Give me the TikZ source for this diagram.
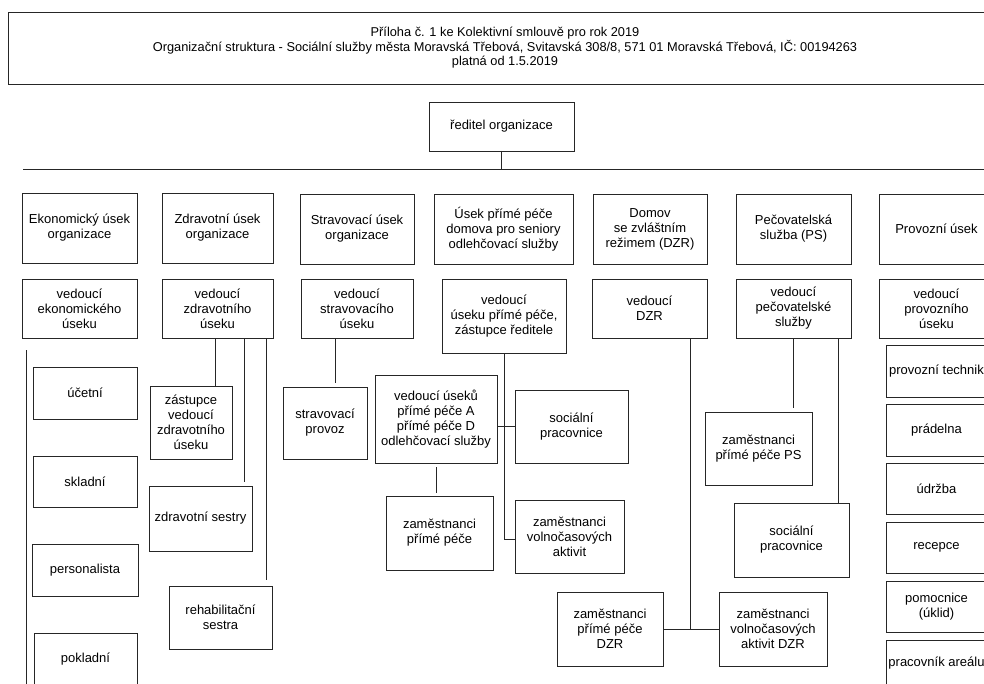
\documentclass[tikz,border=0pt]{standalone}
\usepackage{fontspec}
\setmainfont{Liberation Sans}
\begin{document}
\tikzset{
  box/.style={draw=black!85, line width=0.8pt, inner sep=0pt, outer sep=0pt, align=center, font=\fontsize{13}{15}\selectfont},
  htext/.style={inner sep=0pt, align=center, font=\fontsize{12.8}{14.5}\selectfont},
  conn/.style={draw=black!85, line width=0.8pt},
}
\newcommand\bx[6]{\node[box, minimum width={(#4-(#2))*1pt}, minimum height={(#5-(#3))*1pt}] (#1) at ({((#2)+(#4))/2},{((#3)+(#5))/2}) {#6};}
\begin{tikzpicture}[x=1pt,y=-1pt]
\useasboundingbox (0,0) rectangle (984,684);
\fill[white] (0,0) rectangle (984,684);
% header
\bx{hdr}{8}{12}{994}{84}{}
\node[htext] (hdrtext) at (505,48) {Příloha č. 1 ke Kolektivní smlouvě pro rok 2019\\Organizační struktura - Sociální služby města Moravská Třebová, Svitavská 308/8, 571 01 Moravská Třebová, IČ: 00194263\\platná od 1.5.2019};
% director
\bx{dir}{429}{102}{574}{151}{ředitel organizace}
\coordinate (busL) at (23,169);
\coordinate (busR) at (994,169);
\draw[conn] (busL) -- (busR);
\draw[conn] (dir.south) -- (dir.south |- busL);
% level 1
\bx{ek}{22}{193}{137}{263}{Ekonomický úsek\\organizace}
\bx{zd}{162}{193}{273}{263}{Zdravotní úsek\\organizace}
\bx{st}{300}{194}{414}{264}{Stravovací úsek\\organizace}
\bx{pp}{434}{194}{573}{264}{Úsek přímé péče\\domova pro seniory\\odlehčovací služby}
\bx{dz}{593}{194}{707}{264}{Domov\\se zvláštním\\režimem (DZR)}
\bx{ps}{736}{194}{851}{264}{Pečovatelská\\služba (PS)}
\bx{pr}{879}{194}{994}{264}{Provozní úsek}
% level 2
\bx{vek}{22}{279}{137}{338}{vedoucí\\ekonomického\\úseku}
\bx{vz}{162}{279}{273}{338}{vedoucí\\zdravotního\\úseku}
\bx{vs}{301}{279}{413}{338}{vedoucí\\stravovacího\\úseku}
\bx{vp}{442}{279}{566}{353}{vedoucí\\úseku přímé péče,\\zástupce ředitele}
\bx{vd}{592}{279}{707}{338}{vedoucí\\DZR}
\bx{vps}{736}{279}{851}{338}{vedoucí\\pečovatelské\\služby}
\bx{vpr}{879}{279}{994}{338}{vedoucí\\provozního\\úseku}
% economic
\bx{uc}{33}{367}{137}{419}{účetní}
\bx{sk}{33}{456}{137}{507}{skladní}
\bx{pe}{32}{544}{138}{596}{personalista}
\bx{po}{34}{633}{137}{686}{pokladní}
\coordinate (ekT) at (26,350);
\coordinate (ekB) at (26,690);
\draw[conn] (ekT) -- (ekB);
% health
\bx{zas}{150}{386}{232}{459}{zástupce\\vedoucí\\zdravotního\\úseku}
\bx{zs}{149}{486}{252}{551}{zdravotní sestry}
\bx{rs}{169}{586}{272}{649}{rehabilitační\\sestra}
\coordinate (z1) at (215,0);
\coordinate (z2) at (244,0);
\coordinate (z3) at (266,0);
\draw[conn] (vz.south -| z1) -- (zas.north -| z1);
\draw[conn] (vz.south -| z2) -- ([yshift=4pt]zs.north -| z2);
\draw[conn] (vz.south -| z3) -- ([yshift=6pt]rs.north -| z3);
% catering
\bx{spv}{283}{387}{367}{459}{stravovací\\provoz}
\coordinate (s1) at (335,0);
\draw[conn] (vs.south -| s1) -- ([yshift=4pt]spv.north -| s1);
% direct care
\bx{vu}{375}{375}{497}{463}{vedoucí úseků\\přímé péče A\\přímé péče D\\odlehčovací služby}
\bx{sp1}{515}{390}{628}{463}{sociální\\pracovnice}
\bx{zpp}{386}{496}{493}{570}{zaměstnanci\\přímé péče}
\bx{zv}{515}{500}{624}{573}{zaměstnanci\\volnočasových\\aktivit}
\coordinate (p1) at (504,0);
\draw[conn] (vp.south -| p1) |- ([yshift=-3pt]zv.west);
\draw[conn] (vu.east |- sp1.west) -- (sp1.west);
\draw[conn] ([yshift=-4pt]vu.south) -- ([yshift=3pt]vu.south |- zpp.north);
% DZR
\bx{zpd}{557}{592}{663}{666}{zaměstnanci\\přímé péče\\DZR}
\bx{zvd}{719}{592}{827}{666}{zaměstnanci\\volnočasových\\aktivit DZR}
\coordinate (d1) at (690,0);
\draw[conn] (zpd.east) -- (zvd.west);
\draw[conn] (vd.south -| d1) -- (d1 |- zpd.east);
% care service
\bx{zpps}{705}{412}{812}{485}{zaměstnanci\\přímé péče PS}
\bx{sp2}{734}{503}{849}{577}{sociální\\pracovnice}
\coordinate (q1) at (793,0);
\coordinate (q2) at (838,0);
\draw[conn] (vps.south -| q1) -- ([yshift=4pt]zpps.north -| q1);
\draw[conn] (vps.south -| q2) -- (sp2.north -| q2);
% operations
\bx{pt}{886}{345}{987}{397}{provozní technik}
\bx{pra}{886}{404}{987}{456}{prádelna}
\bx{ud}{886}{463}{987}{514}{údržba}
\bx{rec}{886}{522}{987}{573}{recepce}
\bx{pom}{886}{581}{987}{632}{pomocnice\\(úklid)}
\bx{are}{886}{640}{987}{686}{pracovník areálu}
\end{tikzpicture}
\end{document}
